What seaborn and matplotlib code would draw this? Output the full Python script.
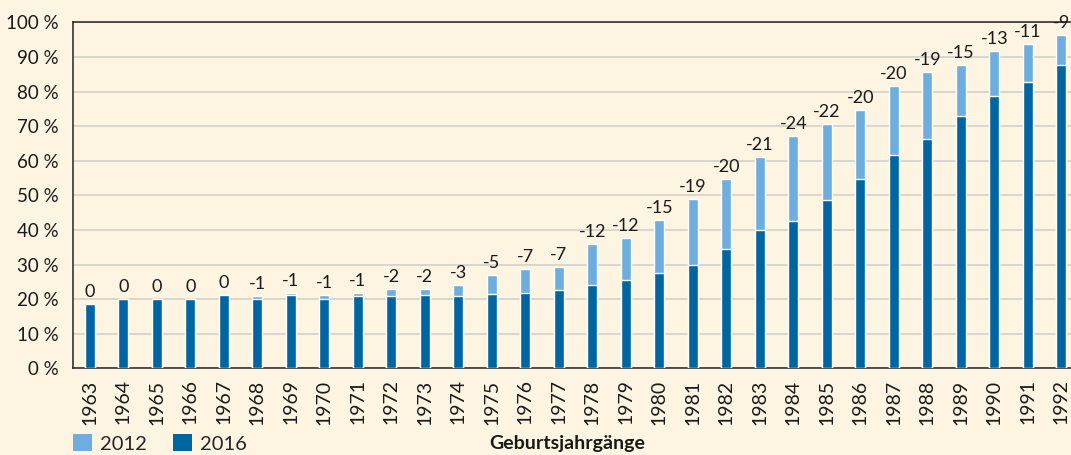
import matplotlib
matplotlib.use("Agg")
import matplotlib.pyplot as plt
import seaborn as sns
import pandas as pd
from matplotlib.patches import Patch

years = [str(y) for y in range(1963, 1993)]
share_2012 = [18.6, 20.0, 20.0, 20.0, 21.2, 20.9, 21.8, 21.2, 21.8, 22.9,
              22.9, 24.1, 27.0, 28.7, 29.3, 35.9, 37.7, 42.9, 48.9, 54.7,
              61.1, 67.1, 70.6, 74.7, 81.6, 85.6, 87.7, 91.7, 93.7, 96.3]
share_2016 = [18.6, 20.0, 20.0, 20.0, 21.2, 20.0, 21.2, 20.0, 20.9, 20.9,
              21.2, 20.9, 21.5, 21.8, 22.6, 24.1, 25.5, 27.6, 29.9, 34.5,
              40.0, 42.6, 48.7, 54.7, 61.7, 66.3, 72.9, 78.7, 82.8, 87.7]
change_labels = ["0", "0", "0", "0", "0", "-1", "-1", "-1", "-1", "-2",
                 "-2", "-3", "-5", "-7", "-7", "-12", "-12", "-15", "-19", "-20",
                 "-21", "-24", "-22", "-20", "-20", "-19", "-15", "-13", "-11", "-9"]
y_ticks = [0, 10, 20, 30, 40, 50, 60, 70, 80, 90, 100]

BG = "#fdf4e1"
LIGHT = "#6daede"
DARK = "#0065a0"
TXT = "#1a1a1a"

sns.set_theme(style="white")
plt.rcParams["font.family"] = ["Lato", "DejaVu Sans"]

df = pd.DataFrame({"year": years, "y2012": share_2012, "y2016": share_2016})

W, H = 1071, 455
fig = plt.figure(figsize=(W / 100, H / 100), dpi=100, facecolor=BG)
ax = fig.add_axes([73 / W, (H - 368.3) / H, 1005 / W, (368.3 - 22.3) / H])
ax.set_facecolor(BG)

sns.barplot(data=df, x="year", y="y2012", color=LIGHT, width=0.3, saturation=1, ax=ax, zorder=3)
sns.barplot(data=df, x="year", y="y2016", color=DARK, width=0.3, saturation=1, ax=ax, zorder=4)

ax.set_ylim(0, 100)
ax.set_xlim(-0.5, len(years) - 0.5)
ax.set_yticks(y_ticks)
ax.set_yticklabels([f"{v} %" for v in y_ticks], fontsize=13.5, color=TXT)
ax.yaxis.grid(True, color="#d6d3cc", linewidth=1.3, zorder=0)
ax.set_axisbelow(True)

ax.set_xticks(range(len(years)))
ax.set_xticklabels(years, rotation=90, fontsize=14, color=TXT)
ax.tick_params(axis="x", which="major", length=0, pad=8)
ax.set_xticks([i - 0.5 for i in range(len(years) + 1)], minor=True)
ax.tick_params(axis="x", which="minor", length=5, width=1, color="#222222", direction="out")
ax.tick_params(axis="y", length=6, width=1, color="#222222", direction="out", pad=4)

for sp in ["left", "bottom", "top"]:
    ax.spines[sp].set_visible(True)
    ax.spines[sp].set_color("#222222")
    ax.spines[sp].set_linewidth(1.1)
ax.spines["right"].set_visible(False)

ax.set_xlabel("")
ax.set_ylabel("")

for i, (v, lab) in enumerate(zip(share_2012, change_labels)):
    ax.annotate(lab, (i, v), xytext=(0, 3), textcoords="offset points",
                ha="center", va="bottom", fontsize=13, color=TXT, zorder=5,
                annotation_clip=False)

handles = [Patch(facecolor=LIGHT, edgecolor="none", label="2012"),
           Patch(facecolor=DARK, edgecolor="none", label="2016")]
fig.legend(handles=handles, loc="upper left", bbox_to_anchor=(73 / W, (H - 434) / H),
           ncol=2, frameon=False, fontsize=14.5, handlelength=0.95, handleheight=0.95,
           columnspacing=1.3, handletextpad=0.4, borderpad=0, borderaxespad=0)

fig.text(567 / W, (H - 443) / H, "Geburtsjahrgänge", ha="center", va="center",
         fontsize=14, fontweight="bold", color=TXT)

fig.savefig("out.png", dpi=100, facecolor=BG)
